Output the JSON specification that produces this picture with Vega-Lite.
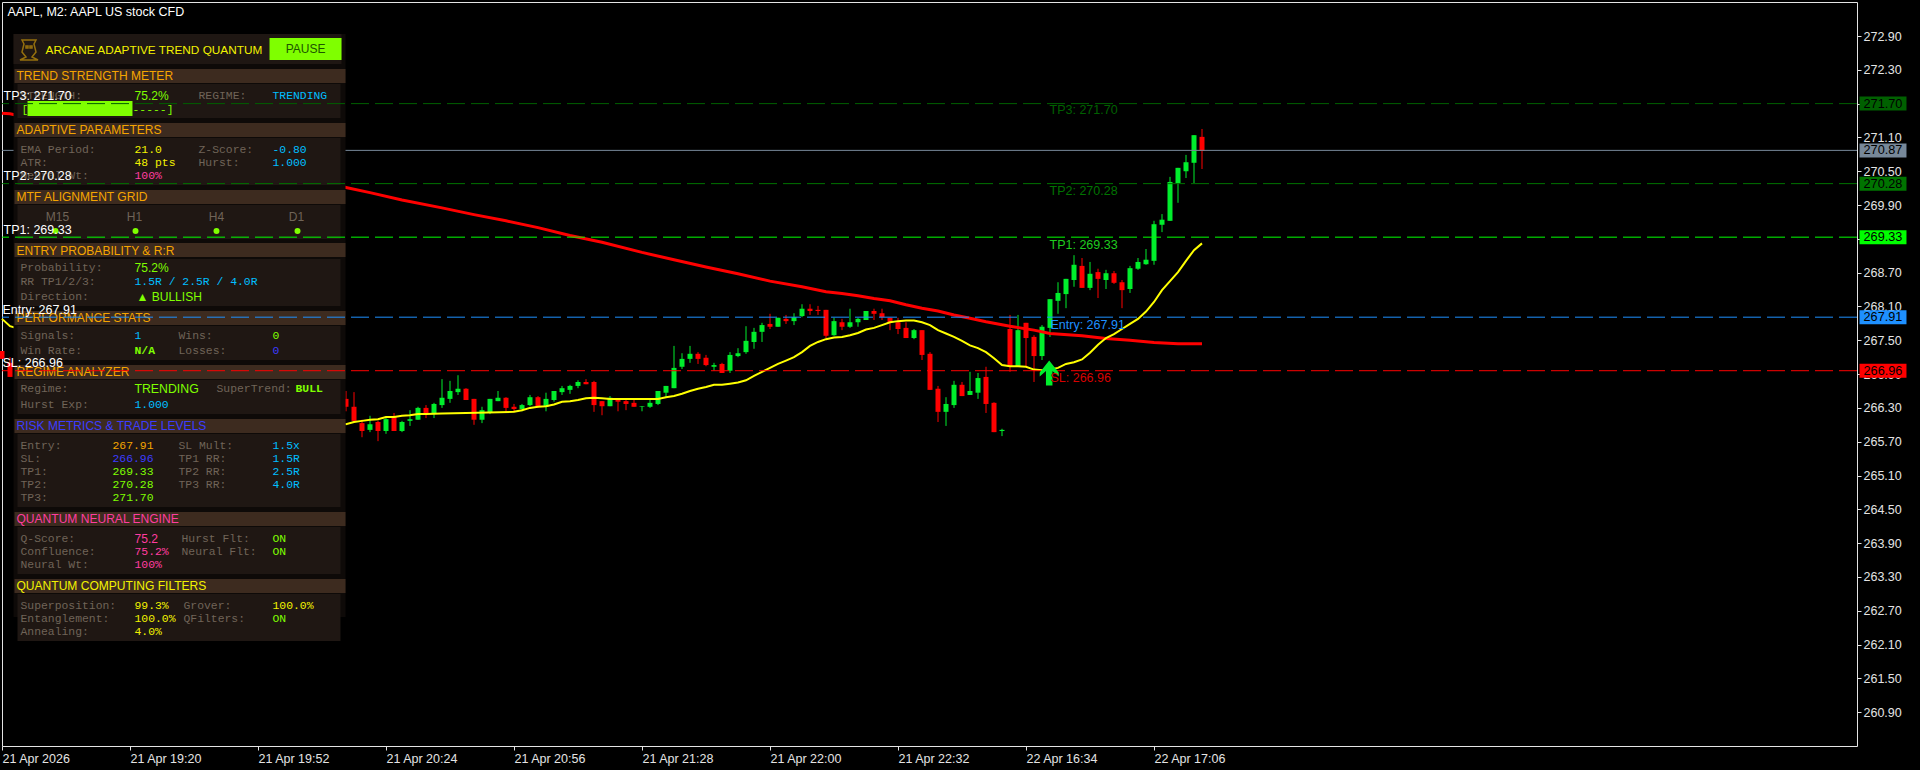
{
"$schema":"https://vega.github.io/schema/vega-lite/v6.json",
"width":1855,"height":744,
"autosize":{"type":"none"},
"padding":{"left":2,"top":2,"right":63,"bottom":24},
"background":"#000000",
"config":{"view":{"stroke":"#e4e4e4","strokeWidth":1},"font":"Liberation Sans"},
"resolve":{"axis":{"x":"independent","y":"independent"}},
"datasets":{
"candles":[
{"k":0,"o":267.31,"h":267.31,"l":267.17,"c":267.17,"tone":"down"},
{"k":1,"o":267.10,"h":267.20,"l":266.85,"c":266.85,"tone":"down"},
{"k":43,"o":266.46,"h":266.60,"l":266.24,"c":266.32,"tone":"down"},
{"k":44,"o":266.32,"h":266.58,"l":266.07,"c":266.07,"tone":"down"},
{"k":45,"o":266.03,"h":266.09,"l":265.78,"c":265.89,"tone":"down"},
{"k":46,"o":265.91,"h":266.16,"l":265.87,"c":266.01,"tone":"up"},
{"k":47,"o":266.05,"h":266.07,"l":265.71,"c":265.89,"tone":"down"},
{"k":48,"o":265.89,"h":266.12,"l":265.84,"c":266.10,"tone":"up"},
{"k":49,"o":266.14,"h":266.21,"l":265.89,"c":265.89,"tone":"down"},
{"k":50,"o":265.89,"h":266.07,"l":265.87,"c":266.05,"tone":"up"},
{"k":51,"o":266.07,"h":266.26,"l":265.98,"c":266.10,"tone":"up"},
{"k":52,"o":266.09,"h":266.32,"l":266.09,"c":266.30,"tone":"up"},
{"k":53,"o":266.30,"h":266.35,"l":266.12,"c":266.19,"tone":"down"},
{"k":54,"o":266.19,"h":266.39,"l":266.12,"c":266.37,"tone":"up"},
{"k":55,"o":266.35,"h":266.81,"l":266.30,"c":266.48,"tone":"up"},
{"k":56,"o":266.46,"h":266.78,"l":266.39,"c":266.60,"tone":"up"},
{"k":57,"o":266.58,"h":266.88,"l":266.53,"c":266.64,"tone":"up"},
{"k":58,"o":266.64,"h":266.65,"l":266.44,"c":266.44,"tone":"down"},
{"k":59,"o":266.46,"h":266.46,"l":266.00,"c":266.09,"tone":"down"},
{"k":60,"o":266.09,"h":266.32,"l":266.03,"c":266.26,"tone":"up"},
{"k":61,"o":266.21,"h":266.46,"l":266.19,"c":266.46,"tone":"up"},
{"k":62,"o":266.42,"h":266.60,"l":266.42,"c":266.48,"tone":"up"},
{"k":63,"o":266.48,"h":266.49,"l":266.23,"c":266.30,"tone":"down"},
{"k":64,"o":266.32,"h":266.37,"l":266.23,"c":266.28,"tone":"down"},
{"k":65,"o":266.28,"h":266.37,"l":266.24,"c":266.35,"tone":"up"},
{"k":66,"o":266.35,"h":266.53,"l":266.33,"c":266.49,"tone":"up"},
{"k":67,"o":266.49,"h":266.51,"l":266.30,"c":266.32,"tone":"down"},
{"k":68,"o":266.32,"h":266.57,"l":266.24,"c":266.46,"tone":"up"},
{"k":69,"o":266.44,"h":266.60,"l":266.41,"c":266.60,"tone":"up"},
{"k":70,"o":266.58,"h":266.69,"l":266.53,"c":266.65,"tone":"up"},
{"k":71,"o":266.62,"h":266.71,"l":266.55,"c":266.69,"tone":"up"},
{"k":72,"o":266.69,"h":266.79,"l":266.65,"c":266.76,"tone":"up"},
{"k":73,"o":266.76,"h":266.81,"l":266.72,"c":266.72,"tone":"down"},
{"k":74,"o":266.76,"h":266.78,"l":266.23,"c":266.35,"tone":"down"},
{"k":75,"o":266.42,"h":266.42,"l":266.17,"c":266.33,"tone":"down"},
{"k":76,"o":266.33,"h":266.51,"l":266.33,"c":266.48,"tone":"up"},
{"k":77,"o":266.46,"h":266.46,"l":266.24,"c":266.41,"tone":"down"},
{"k":78,"o":266.42,"h":266.46,"l":266.26,"c":266.37,"tone":"down"},
{"k":79,"o":266.39,"h":266.44,"l":266.32,"c":266.32,"tone":"down"},
{"k":80,"o":266.32,"h":266.33,"l":266.24,"c":266.33,"tone":"up"},
{"k":81,"o":266.32,"h":266.44,"l":266.30,"c":266.39,"tone":"up"},
{"k":82,"o":266.37,"h":266.60,"l":266.35,"c":266.60,"tone":"up"},
{"k":83,"o":266.57,"h":266.69,"l":266.49,"c":266.69,"tone":"up"},
{"k":84,"o":266.65,"h":267.40,"l":266.65,"c":267.01,"tone":"up"},
{"k":85,"o":267.03,"h":267.27,"l":266.99,"c":267.17,"tone":"up"},
{"k":86,"o":267.17,"h":267.40,"l":267.10,"c":267.26,"tone":"up"},
{"k":87,"o":267.26,"h":267.29,"l":267.08,"c":267.17,"tone":"down"},
{"k":88,"o":267.19,"h":267.24,"l":267.04,"c":267.06,"tone":"down"},
{"k":89,"o":267.03,"h":267.10,"l":266.96,"c":267.06,"tone":"up"},
{"k":90,"o":267.08,"h":267.10,"l":266.92,"c":266.92,"tone":"down"},
{"k":91,"o":266.96,"h":267.29,"l":266.92,"c":267.24,"tone":"up"},
{"k":92,"o":267.22,"h":267.36,"l":267.20,"c":267.27,"tone":"up"},
{"k":93,"o":267.29,"h":267.75,"l":267.26,"c":267.49,"tone":"up"},
{"k":94,"o":267.47,"h":267.72,"l":267.35,"c":267.65,"tone":"up"},
{"k":95,"o":267.65,"h":267.81,"l":267.47,"c":267.77,"tone":"up"},
{"k":96,"o":267.79,"h":267.97,"l":267.70,"c":267.74,"tone":"down"},
{"k":97,"o":267.74,"h":267.90,"l":267.74,"c":267.90,"tone":"up"},
{"k":98,"o":267.88,"h":267.95,"l":267.79,"c":267.84,"tone":"down"},
{"k":99,"o":267.84,"h":267.98,"l":267.77,"c":267.91,"tone":"up"},
{"k":100,"o":267.93,"h":268.14,"l":267.91,"c":268.06,"tone":"up"},
{"k":101,"o":268.06,"h":268.14,"l":267.95,"c":268.02,"tone":"down"},
{"k":102,"o":268.04,"h":268.11,"l":267.95,"c":268.02,"tone":"down"},
{"k":103,"o":268.04,"h":268.04,"l":267.54,"c":267.58,"tone":"down"},
{"k":104,"o":267.59,"h":267.90,"l":267.58,"c":267.84,"tone":"up"},
{"k":105,"o":267.82,"h":267.88,"l":267.68,"c":267.74,"tone":"down"},
{"k":106,"o":267.74,"h":268.06,"l":267.72,"c":267.82,"tone":"up"},
{"k":107,"o":267.82,"h":267.90,"l":267.74,"c":267.88,"tone":"up"},
{"k":108,"o":267.86,"h":268.02,"l":267.86,"c":268.02,"tone":"up"},
{"k":109,"o":268.02,"h":268.06,"l":267.86,"c":267.97,"tone":"down"},
{"k":110,"o":267.98,"h":268.06,"l":267.86,"c":267.91,"tone":"down"},
{"k":111,"o":267.90,"h":267.90,"l":267.68,"c":267.82,"tone":"down"},
{"k":112,"o":267.82,"h":267.90,"l":267.61,"c":267.70,"tone":"down"},
{"k":113,"o":267.72,"h":267.82,"l":267.54,"c":267.54,"tone":"down"},
{"k":114,"o":267.54,"h":267.70,"l":267.52,"c":267.68,"tone":"up"},
{"k":115,"o":267.68,"h":267.68,"l":267.15,"c":267.24,"tone":"down"},
{"k":116,"o":267.26,"h":267.29,"l":266.62,"c":266.62,"tone":"down"},
{"k":117,"o":266.64,"h":266.69,"l":266.05,"c":266.23,"tone":"down"},
{"k":118,"o":266.23,"h":266.49,"l":265.98,"c":266.37,"tone":"up"},
{"k":119,"o":266.35,"h":266.78,"l":266.30,"c":266.71,"tone":"up"},
{"k":120,"o":266.71,"h":266.76,"l":266.51,"c":266.51,"tone":"down"},
{"k":121,"o":266.53,"h":266.94,"l":266.53,"c":266.60,"tone":"up"},
{"k":122,"o":266.57,"h":266.92,"l":266.46,"c":266.83,"tone":"up"},
{"k":123,"o":266.85,"h":267.03,"l":266.21,"c":266.37,"tone":"down"},
{"k":124,"o":266.39,"h":266.40,"l":265.87,"c":265.87,"tone":"down"},
{"k":125,"o":265.89,"h":265.93,"l":265.80,"c":265.91,"tone":"up"},
{"k":126,"o":267.70,"h":267.95,"l":266.94,"c":267.04,"tone":"down"},
{"k":127,"o":267.04,"h":267.95,"l":267.03,"c":267.68,"tone":"up"},
{"k":128,"o":267.81,"h":267.81,"l":267.03,"c":267.54,"tone":"down"},
{"k":129,"o":267.56,"h":267.59,"l":266.76,"c":267.22,"tone":"down"},
{"k":130,"o":267.22,"h":267.77,"l":267.15,"c":267.74,"tone":"up"},
{"k":131,"o":267.72,"h":268.23,"l":267.56,"c":268.23,"tone":"up"},
{"k":132,"o":268.20,"h":268.53,"l":267.97,"c":268.34,"tone":"up"},
{"k":133,"o":268.32,"h":268.59,"l":268.07,"c":268.59,"tone":"up"},
{"k":134,"o":268.57,"h":269.01,"l":268.45,"c":268.84,"tone":"up"},
{"k":135,"o":268.82,"h":268.96,"l":268.43,"c":268.43,"tone":"down"},
{"k":136,"o":268.43,"h":268.89,"l":268.39,"c":268.68,"tone":"up"},
{"k":137,"o":268.71,"h":268.77,"l":268.25,"c":268.59,"tone":"down"},
{"k":138,"o":268.57,"h":268.75,"l":268.41,"c":268.69,"tone":"up"},
{"k":139,"o":268.69,"h":268.73,"l":268.50,"c":268.52,"tone":"down"},
{"k":140,"o":268.53,"h":268.57,"l":268.07,"c":268.39,"tone":"down"},
{"k":141,"o":268.41,"h":268.82,"l":268.34,"c":268.78,"tone":"up"},
{"k":142,"o":268.77,"h":268.96,"l":268.75,"c":268.89,"tone":"up"},
{"k":143,"o":268.85,"h":269.12,"l":268.84,"c":268.93,"tone":"up"},
{"k":144,"o":268.91,"h":269.62,"l":268.84,"c":269.56,"tone":"up"},
{"k":145,"o":269.55,"h":269.74,"l":269.42,"c":269.64,"tone":"up"},
{"k":146,"o":269.62,"h":270.40,"l":269.62,"c":270.31,"tone":"up"},
{"k":147,"o":270.29,"h":270.56,"l":269.94,"c":270.56,"tone":"up"},
{"k":148,"o":270.50,"h":270.79,"l":270.38,"c":270.66,"tone":"up"},
{"k":149,"o":270.65,"h":271.14,"l":270.29,"c":271.14,"tone":"up"},
{"k":150,"o":271.11,"h":271.25,"l":270.54,"c":270.86,"tone":"down"}
],
"fast":[
{"k":0,"p":267.88},{"k":1,"p":267.75},{"k":43,"p":266.01},{"k":44,"p":266.05},{"k":45,"p":266.07},{"k":46,"p":266.09},{"k":47,"p":266.10},{"k":48,"p":266.14},{"k":49,"p":266.14},{"k":50,"p":266.16},{"k":51,"p":266.17},{"k":52,"p":266.19},{"k":53,"p":266.19},{"k":55,"p":266.20},{"k":58,"p":266.21},{"k":64,"p":266.23},{"k":65,"p":266.26},{"k":66,"p":266.30},{"k":67,"p":266.32},{"k":68,"p":266.33},{"k":69,"p":266.36},{"k":70,"p":266.41},{"k":71,"p":266.42},{"k":72,"p":266.44},{"k":73,"p":266.47},{"k":74,"p":266.48},{"k":75,"p":266.47},{"k":76,"p":266.46},{"k":82,"p":266.46},{"k":83,"p":266.49},{"k":84,"p":266.51},{"k":85,"p":266.55},{"k":86,"p":266.60},{"k":87,"p":266.64},{"k":88,"p":266.67},{"k":89,"p":266.71},{"k":90,"p":266.71},{"k":91,"p":266.73},{"k":92,"p":266.75},{"k":93,"p":266.79},{"k":94,"p":266.87},{"k":95,"p":266.94},{"k":96,"p":267.01},{"k":97,"p":267.08},{"k":98,"p":267.14},{"k":99,"p":267.20},{"k":100,"p":267.29},{"k":101,"p":267.40},{"k":102,"p":267.47},{"k":103,"p":267.52},{"k":104,"p":267.55},{"k":105,"p":267.56},{"k":106,"p":267.59},{"k":107,"p":267.63},{"k":108,"p":267.69},{"k":109,"p":267.72},{"k":110,"p":267.77},{"k":111,"p":267.82},{"k":112,"p":267.84},{"k":113,"p":267.85},{"k":114,"p":267.85},{"k":115,"p":267.82},{"k":116,"p":267.77},{"k":117,"p":267.68},{"k":118,"p":267.62},{"k":119,"p":267.56},{"k":120,"p":267.49},{"k":121,"p":267.41},{"k":122,"p":267.36},{"k":123,"p":267.29},{"k":124,"p":267.18},{"k":125,"p":267.06},{"k":126,"p":267.04},{"k":127,"p":267.04},{"k":128,"p":267.03},{"k":129,"p":266.98},{"k":130,"p":266.97},{"k":131,"p":266.98},{"k":132,"p":267.01},{"k":133,"p":267.08},{"k":134,"p":267.11},{"k":135,"p":267.16},{"k":136,"p":267.28},{"k":137,"p":267.42},{"k":138,"p":267.54},{"k":139,"p":267.61},{"k":140,"p":267.70},{"k":141,"p":267.79},{"k":142,"p":267.88},{"k":143,"p":268.01},{"k":144,"p":268.18},{"k":145,"p":268.39},{"k":146,"p":268.55},{"k":147,"p":268.71},{"k":148,"p":268.91},{"k":149,"p":269.10},{"k":150,"p":269.22}
],
"slow":[
{"k":0,"p":271.53},{"k":1,"p":271.52},{"k":43,"p":270.21},{"k":46,"p":270.12},{"k":50,"p":269.99},{"k":55,"p":269.85},{"k":59,"p":269.73},{"k":63,"p":269.62},{"k":67,"p":269.50},{"k":71,"p":269.36},{"k":75,"p":269.24},{"k":80,"p":269.06},{"k":84,"p":268.93},{"k":88,"p":268.80},{"k":92,"p":268.68},{"k":96,"p":268.55},{"k":100,"p":268.45},{"k":103,"p":268.36},{"k":105,"p":268.33},{"k":107,"p":268.29},{"k":109,"p":268.24},{"k":111,"p":268.20},{"k":113,"p":268.13},{"k":115,"p":268.07},{"k":117,"p":268.02},{"k":119,"p":267.95},{"k":121,"p":267.89},{"k":123,"p":267.83},{"k":126,"p":267.75},{"k":129,"p":267.68},{"k":131,"p":267.62},{"k":135,"p":267.58},{"k":138,"p":267.53},{"k":141,"p":267.50},{"k":144,"p":267.46},{"k":147,"p":267.44},{"k":150,"p":267.44}
],
"levels":[
{"name":"TP3","p":271.70,"tone":"tp3","k":232.19,"k2":238.06,"tk":232.69},
{"name":"TP2","p":270.28,"tone":"tp2","k":232.19,"k2":238.06,"tk":232.69},
{"name":"TP1","p":269.33,"tone":"tp1","k":232.19,"k2":238.06,"tk":232.69},
{"name":"Entry","p":267.91,"tone":"entry","k":232.19,"k2":238.06,"tk":232.69},
{"name":"SL","p":266.96,"tone":"sl","k":232.19,"k2":238.06,"tk":232.69}
],
"bid":[{"name":"Bid","p":270.87,"tone":"bid","k":232.19,"k2":238.06,"tk":232.69}],
"parts":[
{"k0":1.44,"k1":42.94,"p0":272.936,"p1":262.590,"tone":"backdrop"},
{"k0":1.44,"k1":42.44,"p0":272.936,"p1":272.403,"tone":"body"},
{"k0":33.44,"k1":42.44,"p0":272.865,"p1":272.474,"tone":"button"},
{"k0":1.56,"k1":42.94,"p0":272.314,"p1":272.066,"tone":"header"},
{"k0":1.94,"k1":42.31,"p0":272.048,"p1":271.445,"tone":"body"},
{"k0":3.19,"k1":16.31,"p0":271.746,"p1":271.480,"tone":"button"},
{"k0":1.56,"k1":42.94,"p0":271.356,"p1":271.108,"tone":"header"},
{"k0":1.94,"k1":42.31,"p0":271.090,"p1":270.256,"tone":"body"},
{"k0":1.56,"k1":42.94,"p0":270.167,"p1":269.919,"tone":"header"},
{"k0":1.94,"k1":42.31,"p0":269.901,"p1":269.298,"tone":"body"},
{"k0":1.56,"k1":42.94,"p0":269.227,"p1":268.978,"tone":"header"},
{"k0":1.94,"k1":42.31,"p0":268.943,"p1":268.109,"tone":"body"},
{"k0":1.56,"k1":42.94,"p0":268.020,"p1":267.771,"tone":"header"},
{"k0":1.94,"k1":42.31,"p0":267.754,"p1":267.150,"tone":"body"},
{"k0":1.56,"k1":42.94,"p0":267.062,"p1":266.813,"tone":"header"},
{"k0":1.94,"k1":42.31,"p0":266.795,"p1":266.192,"tone":"body"},
{"k0":1.56,"k1":42.94,"p0":266.103,"p1":265.855,"tone":"header"},
{"k0":1.94,"k1":42.31,"p0":265.837,"p1":264.542,"tone":"body"},
{"k0":1.56,"k1":42.94,"p0":264.453,"p1":264.204,"tone":"header"},
{"k0":1.94,"k1":42.31,"p0":264.187,"p1":263.353,"tone":"body"},
{"k0":1.56,"k1":42.94,"p0":263.264,"p1":263.015,"tone":"header"},
{"k0":1.94,"k1":42.31,"p0":262.998,"p1":262.164,"tone":"body"}
],
"dots":[
{"k":6.69,"p":269.44,"tone":"green"},{"k":16.69,"p":269.44,"tone":"green"},{"k":26.81,"p":269.44,"tone":"green"},{"k":36.94,"p":269.44,"tone":"green"}
],
"sansText":[
{"text":"ARCANE ADAPTIVE TREND QUANTUM","k":5.44,"p":272.652,"tone":"yellow","face":"title"},
{"text":"TREND STRENGTH METER","k":1.81,"p":272.19,"tone":"orange","face":"head"},
{"text":"ADAPTIVE PARAMETERS","k":1.81,"p":271.232,"tone":"orange","face":"head"},
{"text":"MTF ALIGNMENT GRID","k":1.81,"p":270.043,"tone":"orange","face":"head"},
{"text":"ENTRY PROBABILITY & R:R","k":1.81,"p":269.093,"tone":"orange","face":"head"},
{"text":"PERFORMANCE STATS","k":1.81,"p":267.896,"tone":"orange","face":"head"},
{"text":"REGIME ANALYZER","k":1.81,"p":266.937,"tone":"orange","face":"head"},
{"text":"RISK METRICS & TRADE LEVELS","k":1.81,"p":265.979,"tone":"blue","face":"head"},
{"text":"QUANTUM NEURAL ENGINE","k":1.81,"p":264.328,"tone":"pink","face":"head"},
{"text":"QUANTUM COMPUTING FILTERS","k":1.81,"p":263.14,"tone":"yellow","face":"head"},
{"text":"75.2%","k":16.56,"p":271.835,"tone":"green","face":"head"},
{"text":"75.2%","k":16.56,"p":268.783,"tone":"green","face":"head"},
{"text":"▲ BULLISH","k":16.8,"p":268.268,"tone":"green","face":"head"},
{"text":"TRENDING","k":16.56,"p":266.636,"tone":"green","face":"big"},
{"text":"75.2","k":16.56,"p":263.974,"tone":"pink","face":"head"}
],
"centerText":[
{"text":"PAUSE","k":37.94,"p":272.67,"tone":"pause"},
{"text":"M15","k":6.94,"p":269.688,"tone":"label"},
{"text":"H1","k":16.56,"p":269.688,"tone":"label"},
{"text":"H4","k":26.81,"p":269.688,"tone":"label"},
{"text":"D1","k":36.81,"p":269.688,"tone":"label"}
],
"monoText":[
{"text":"STRENGTH:","k":2.31,"p":271.835,"tone":"label"},
{"text":"REGIME:","k":24.56,"p":271.835,"tone":"label"},
{"text":"TRENDING","k":33.81,"p":271.835,"tone":"cyan"},
{"text":"[","k":2.44,"p":271.587,"tone":"green"},
{"text":"-----]","k":16.31,"p":271.587,"tone":"green"},
{"text":"EMA Period:","k":2.31,"p":270.877,"tone":"label"},
{"text":"21.0","k":16.56,"p":270.877,"tone":"yellow"},
{"text":"Z-Score:","k":24.56,"p":270.877,"tone":"label"},
{"text":"-0.80","k":33.81,"p":270.877,"tone":"cyan"},
{"text":"ATR:","k":2.31,"p":270.646,"tone":"label"},
{"text":"48 pts","k":16.56,"p":270.646,"tone":"yellow"},
{"text":"Hurst:","k":24.56,"p":270.646,"tone":"label"},
{"text":"1.000","k":33.81,"p":270.646,"tone":"cyan"},
{"text":"Neural Wt:","k":2.31,"p":270.416,"tone":"label"},
{"text":"100%","k":16.56,"p":270.416,"tone":"pink"},
{"text":"Probability:","k":2.31,"p":268.783,"tone":"label"},
{"text":"RR TP1/2/3:","k":2.31,"p":268.535,"tone":"label"},
{"text":"1.5R / 2.5R / 4.0R","k":16.56,"p":268.535,"tone":"cyan"},
{"text":"Direction:","k":2.31,"p":268.268,"tone":"label"},
{"text":"Signals:","k":2.31,"p":267.576,"tone":"label"},
{"text":"1","k":16.56,"p":267.576,"tone":"cyan"},
{"text":"Wins:","k":22.06,"p":267.576,"tone":"label"},
{"text":"0","k":33.81,"p":267.576,"tone":"green"},
{"text":"Win Rate:","k":2.31,"p":267.31,"tone":"label"},
{"text":"Losses:","k":22.06,"p":267.31,"tone":"label"},
{"text":"0","k":33.81,"p":267.31,"tone":"blue"},
{"text":"Regime:","k":2.31,"p":266.636,"tone":"label"},
{"text":"SuperTrend:","k":26.81,"p":266.636,"tone":"label"},
{"text":"Hurst Exp:","k":2.31,"p":266.352,"tone":"label"},
{"text":"1.000","k":16.56,"p":266.352,"tone":"cyan"},
{"text":"Entry:","k":2.31,"p":265.624,"tone":"label"},
{"text":"267.91","k":13.81,"p":265.624,"tone":"orange"},
{"text":"SL Mult:","k":22.06,"p":265.624,"tone":"label"},
{"text":"1.5x","k":33.81,"p":265.624,"tone":"cyan"},
{"text":"SL:","k":2.31,"p":265.393,"tone":"label"},
{"text":"266.96","k":13.81,"p":265.393,"tone":"blue"},
{"text":"TP1 RR:","k":22.06,"p":265.393,"tone":"label"},
{"text":"1.5R","k":33.81,"p":265.393,"tone":"cyan"},
{"text":"TP1:","k":2.31,"p":265.163,"tone":"label"},
{"text":"269.33","k":13.81,"p":265.163,"tone":"green"},
{"text":"TP2 RR:","k":22.06,"p":265.163,"tone":"label"},
{"text":"2.5R","k":33.81,"p":265.163,"tone":"cyan"},
{"text":"TP2:","k":2.31,"p":264.932,"tone":"label"},
{"text":"270.28","k":13.81,"p":264.932,"tone":"green"},
{"text":"TP3 RR:","k":22.06,"p":264.932,"tone":"label"},
{"text":"4.0R","k":33.81,"p":264.932,"tone":"cyan"},
{"text":"TP3:","k":2.31,"p":264.701,"tone":"label"},
{"text":"271.70","k":13.81,"p":264.701,"tone":"green"},
{"text":"Q-Score:","k":2.31,"p":263.974,"tone":"label"},
{"text":"Hurst Flt:","k":22.44,"p":263.974,"tone":"label"},
{"text":"ON","k":33.81,"p":263.974,"tone":"green"},
{"text":"Confluence:","k":2.31,"p":263.743,"tone":"label"},
{"text":"75.2%","k":16.56,"p":263.743,"tone":"pink"},
{"text":"Neural Flt:","k":22.44,"p":263.743,"tone":"label"},
{"text":"ON","k":33.81,"p":263.743,"tone":"green"},
{"text":"Neural Wt:","k":2.31,"p":263.512,"tone":"label"},
{"text":"100%","k":16.56,"p":263.512,"tone":"pink"},
{"text":"Superposition:","k":2.31,"p":262.785,"tone":"label"},
{"text":"99.3%","k":16.56,"p":262.785,"tone":"yellow"},
{"text":"Grover:","k":22.69,"p":262.785,"tone":"label"},
{"text":"100.0%","k":33.81,"p":262.785,"tone":"yellow"},
{"text":"Entanglement:","k":2.31,"p":262.554,"tone":"label"},
{"text":"100.0%","k":16.56,"p":262.554,"tone":"yellow"},
{"text":"QFilters:","k":22.69,"p":262.554,"tone":"label"},
{"text":"ON","k":33.81,"p":262.554,"tone":"green"},
{"text":"Annealing:","k":2.31,"p":262.323,"tone":"label"},
{"text":"4.0%","k":16.56,"p":262.323,"tone":"yellow"}
],
"boldText":[
{"text":"N/A","k":16.56,"p":267.31,"tone":"green"},
{"text":"BULL","k":36.69,"p":266.636,"tone":"green"}
],
"notes":[
{"text":"AAPL, M2:  AAPL US stock CFD","k":0.69,"p":273.326,"tone":"white"},
{"text":"TP3: 271.70","k":0.19,"p":271.835,"tone":"white"},
{"text":"TP2: 270.28","k":0.19,"p":270.416,"tone":"white"},
{"text":"TP1: 269.33","k":0.19,"p":269.457,"tone":"white"},
{"text":"Entry: 267.91","k":0.06,"p":268.038,"tone":"white"},
{"text":"SL: 266.96","k":0.06,"p":267.097,"tone":"white"},
{"text":"TP3: 271.70","k":130.94,"p":271.587,"tone":"tp3"},
{"text":"TP2: 270.28","k":130.94,"p":270.149,"tone":"tp2"},
{"text":"TP1: 269.33","k":130.94,"p":269.191,"tone":"tp1text"},
{"text":"Entry: 267.91","k":131.06,"p":267.771,"tone":"entry"},
{"text":"SL: 266.96","k":131.06,"p":266.831,"tone":"sltext"}
],
"signal":[{"k":130.9,"p":266.92,"tone":"up"}],
"badge":[{"k":3.375,"p":272.652}]
},
"encoding":{
"color":{"field":"tone","type":"nominal","legend":null,"scale":{
"domain":["up","down","backdrop","body","header","button","pause","label","orange","yellow","green","cyan","pink","blue","white","tp3","tp2","tp1","tp1text","entry","sl","sltext","bid"],
"range":["#00ee2c","#ff0000","#0e0a08","#1f1713","#3d2b1f","#7fff00","#1d5500","#706458","#f5a500","#f2f200","#7fff00","#00bfff","#ff3da0","#3c3cff","#ffffff","#006000","#007400","#00ff00","#1fcc1f","#1e90ff","#ff0000","#d80000","#778899"]}}
},
"layer":[
{"data":{"name":"candles"},"mark":{"type":"rule","strokeWidth":1},
"encoding":{
"x":{"field":"k","type":"quantitative","scale":{"domain":[0,231.875],"nice":false,"zero":false,"padding":0},
"axis":{"title":null,"orient":"bottom","values":[0,16,32,48,64,80,96,112,128,144],"grid":false,"domain":false,"ticks":true,"tickSize":4,"tickColor":"#e4e4e4","labelColor":"#e4e4e4","labelFont":"Liberation Sans","labelFontSize":12.5,"labelAlign":"left","labelPadding":2,"labelFlush":false,"labelOverlap":false,"labelBound":false,"labelExpr":"['21 Apr 2026','21 Apr 19:20','21 Apr 19:52','21 Apr 20:24','21 Apr 20:56','21 Apr 21:28','21 Apr 22:00','21 Apr 22:32','22 Apr 16:34','22 Apr 17:06'][datum.value/16]"}},
"y":{"field":"l","type":"quantitative","scale":{"domain":[260.30,273.5034],"nice":false,"zero":false,"padding":0},
"axis":{"title":null,"orient":"right","values":[260.9,261.5,262.1,262.7,263.3,263.9,264.5,265.1,265.7,266.3,266.9,267.5,268.1,268.7,269.3,269.9,270.5,271.1,271.7,272.3,272.9],"format":".2f","grid":false,"domain":false,"ticks":true,"tickSize":4,"tickColor":"#e4e4e4","labelColor":"#e4e4e4","labelFont":"Liberation Sans","labelFontSize":12.5,"labelPadding":2,"labelOverlap":false,"labelBound":false}},
"y2":{"field":"h"}}},
{"data":{"name":"candles"},"mark":{"type":"bar","size":5},
"encoding":{
"x":{"field":"k","type":"quantitative","axis":null},
"y":{"field":"o","type":"quantitative","axis":null},
"y2":{"field":"c"}}},
{"data":{"name":"slow"},"mark":{"type":"line","strokeWidth":3,"interpolate":"linear"},
"encoding":{"x":{"field":"k","type":"quantitative","axis":null},"y":{"field":"p","type":"quantitative","axis":null},"color":{"value":"#ff0000"},"order":{"field":"k"}}},
{"data":{"name":"fast"},"mark":{"type":"line","strokeWidth":2,"interpolate":"linear"},
"encoding":{"x":{"field":"k","type":"quantitative","axis":null},"y":{"field":"p","type":"quantitative","axis":null},"color":{"value":"#ffff00"},"order":{"field":"k"}}},
{"data":{"name":"bid"},"mark":{"type":"rule","strokeWidth":1},
"encoding":{"y":{"field":"p","type":"quantitative","axis":null}}},
{"data":{"name":"parts"},"mark":{"type":"rect"},
"encoding":{"x":{"field":"k0","type":"quantitative","axis":null},"x2":{"field":"k1"},"y":{"field":"p0","type":"quantitative","axis":null},"y2":{"field":"p1"}}},
{"data":{"name":"badge"},"mark":{"type":"point","filled":false,"strokeWidth":1.5,"shape":"M0,-1 L0.7,-1 L0.5,-0.6 L0.7,0.2 L0.3,0.7 L0.9,1 L-0.9,1 L-0.3,0.7 L-0.7,0.2 L-0.5,-0.6 L-0.7,-1 Z M-0.3,-0.4 L-0.1,-0.4 L-0.1,-0.2 L-0.3,-0.2 Z M0.1,-0.4 L0.3,-0.4 L0.3,-0.2 L0.1,-0.2 Z","size":400},
"encoding":{"x":{"field":"k","type":"quantitative","axis":null},"y":{"field":"p","type":"quantitative","axis":null},"color":{"value":"#c8960c"}}},
{"data":{"name":"dots"},"mark":{"type":"point","filled":true,"opacity":1,"shape":"circle","size":36},
"encoding":{"x":{"field":"k","type":"quantitative","axis":null},"y":{"field":"p","type":"quantitative","axis":null}}},
{"data":{"name":"sansText"},"mark":{"type":"text","align":"left","baseline":"middle","font":"Liberation Sans"},
"encoding":{"x":{"field":"k","type":"quantitative","axis":null},"y":{"field":"p","type":"quantitative","axis":null},"text":{"field":"text"},"size":{"field":"face","type":"ordinal","legend":null,"scale":{"domain":["title","head","big"],"range":[11.8,12.3,14.1]}}}},
{"data":{"name":"centerText"},"mark":{"type":"text","align":"center","baseline":"middle","font":"Liberation Sans","fontSize":12},
"encoding":{"x":{"field":"k","type":"quantitative","axis":null},"y":{"field":"p","type":"quantitative","axis":null},"text":{"field":"text"}}},
{"data":{"name":"monoText"},"mark":{"type":"text","align":"left","baseline":"middle","font":"Liberation Mono","fontSize":11.4},
"encoding":{"x":{"field":"k","type":"quantitative","axis":null},"y":{"field":"p","type":"quantitative","axis":null},"text":{"field":"text"}}},
{"data":{"name":"boldText"},"mark":{"type":"text","align":"left","baseline":"middle","font":"Liberation Mono","fontSize":11.4,"fontWeight":"bold"},
"encoding":{"x":{"field":"k","type":"quantitative","axis":null},"y":{"field":"p","type":"quantitative","axis":null},"text":{"field":"text"}}},
{"data":{"name":"levels"},"mark":{"type":"rule","strokeWidth":1,"strokeDash":[18,6]},
"encoding":{"y":{"field":"p","type":"quantitative","axis":null}}},
{"data":{"name":"signal"},"mark":{"type":"point","filled":true,"opacity":1,"size":625,"shape":"M0,-1 L0.76,-0.04 L0.76,0.28 L0.26,-0.16 L0.26,1 L-0.26,1 L-0.26,-0.16 L-0.76,0.28 L-0.76,-0.04 Z"},
"encoding":{"x":{"field":"k","type":"quantitative","axis":null},"y":{"field":"p","type":"quantitative","axis":null}}},
{"data":{"name":"notes"},"mark":{"type":"text","align":"left","baseline":"middle","font":"Liberation Sans","fontSize":12.5},
"encoding":{"x":{"field":"k","type":"quantitative","axis":null},"y":{"field":"p","type":"quantitative","axis":null},"text":{"field":"text"}}},
{"data":{"name":"bid"},"mark":{"type":"rule","strokeWidth":14},
"encoding":{"x":{"field":"k","type":"quantitative","axis":null},"x2":{"field":"k2"},"y":{"field":"p","type":"quantitative","axis":null}}},
{"data":{"name":"levels"},"mark":{"type":"rule","strokeWidth":14},
"encoding":{"x":{"field":"k","type":"quantitative","axis":null},"x2":{"field":"k2"},"y":{"field":"p","type":"quantitative","axis":null}}},
{"data":{"name":"bid"},"mark":{"type":"text","align":"left","baseline":"middle","font":"Liberation Sans","fontSize":12.7},
"encoding":{"x":{"field":"tk","type":"quantitative","axis":null},"y":{"field":"p","type":"quantitative","axis":null},"text":{"field":"p","type":"quantitative","format":".2f"},"color":{"value":"#000000"}}},
{"data":{"name":"levels"},"mark":{"type":"text","align":"left","baseline":"middle","font":"Liberation Sans","fontSize":12.7},
"encoding":{"x":{"field":"tk","type":"quantitative","axis":null},"y":{"field":"p","type":"quantitative","axis":null},"text":{"field":"p","type":"quantitative","format":".2f"},"color":{"value":"#000000"}}}
]
}
